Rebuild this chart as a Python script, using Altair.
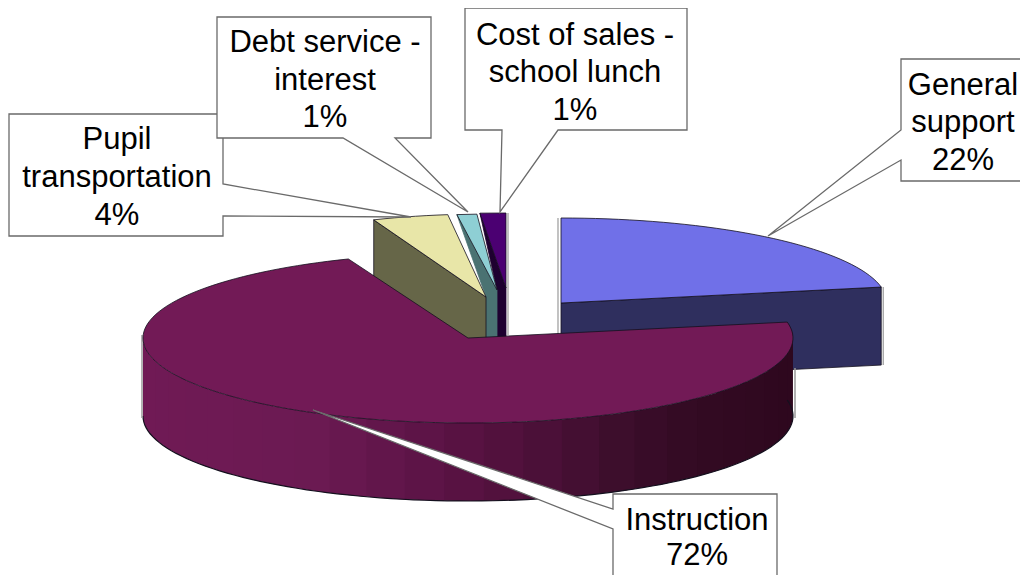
import math
import altair as alt
import pandas as pd

# ---- chart values
categories = ["General support", "Instruction", "Pupil transportation", "Debt service - interest", "Cost of sales - school lunch"]
values = [22, 72, 4, 1, 1]
label_lines = [["General", "support"], ["Instruction"], ["Pupil", "transportation"], ["Debt service -", "interest"], ["Cost of sales -", "school lunch"]]

# ---- drawing styles (top colour, wall colour)
top_colors = ["#7070e8", "#721a56", "#e8e6a8", "#8ecfd4", "#4b0072"]
wall_colors = ["#2f2f5e", "#5a1245", "#666648", "#4a7272", "#1e0030"]
# centre x, centre y, radius x, radius y of each exploded slice
ellipses = [(561, 303, 326, 85), (468, 338, 325, 85), (486, 297, 305, 83), (497, 290, 320, 76), (506, 288, 415, 75)]
DEPTH = 78
EDGE = "#14101e"
FRINGE = "#9a9a9a"
BOX = "#6a6a6a"
FONT = "Liberation Sans"
FS = 31

# angle limits from the values
limits = [0]
for v in values:
    limits.append(limits[-1] + v * 3.6)


def pt(i, t):
    cx, cy, rx, ry = ellipses[i]
    a = math.radians(t)
    return (cx + rx * math.sin(a), cy - ry * math.cos(a))


def arc(i, t0, t1):
    n = max(2, int(abs(t1 - t0) / 2) + 1)
    return [pt(i, t0 + (t1 - t0) * k / (n - 1)) for k in range(n)]


layers = []
X = alt.X("x:Q", scale=alt.Scale(domain=[8, 1020], nice=False, zero=False), axis=None)
Y = alt.Y("y:Q", scale=alt.Scale(domain=[575, 8], nice=False, zero=False), axis=None)


def poly(points, fill, stroke=None, width=1.0):
    df = pd.DataFrame({"x": [p[0] for p in points], "y": [p[1] for p in points], "seq": range(len(points))})
    kw = dict(interpolate="linear-closed", fill=fill, strokeWidth=width, stroke=stroke or fill)
    layers.append(alt.Chart(df).mark_line(**kw).encode(x=X, y=Y, order=alt.Order("seq:Q")))


def path(points, color, width=1.2):
    df = pd.DataFrame({"x": [p[0] for p in points], "y": [p[1] for p in points], "seq": range(len(points))})
    layers.append(alt.Chart(df).mark_line(color=color, strokeWidth=width).encode(x=X, y=Y, order=alt.Order("seq:Q")))


def down(p, d=DEPTH):
    return (p[0], p[1] + d)


# ---- General support
g0, g1 = limits[0], limits[1]
gc = ellipses[0][:2]
ge = pt(0, g1)
poly([gc, ge, down(ge), down(gc)], wall_colors[0], EDGE, 0.8)
poly([gc] + arc(0, g0, g1), top_colors[0], EDGE, 0.8)
path([(ge[0] + 2, ge[1]), (ge[0] + 2, ge[1] + DEPTH)], FRINGE)
path([(gc[0] - 3, ellipses[0][1] - 85), (gc[0] - 3, 334)], FRINGE)

# ---- the three small slices, back to front
for i, prev in [(4, 3), (3, 2), (2, None)]:
    t0, t1 = limits[i], limits[i + 1]
    c = ellipses[i][:2]
    a = pt(i, t0)
    if prev is None:
        wall = [a, c, down(c), down(a)]
    else:
        q = ellipses[prev][:2]
        wall = [a, c, down(c), down(q), q]
    poly(wall, wall_colors[i], EDGE if i == 2 else wall_colors[i], 0.8)
    poly([c] + arc(i, t0, t1), top_colors[i], EDGE, 0.8)
    if i == 4:
        path([(c[0] + 2, 213), (c[0] + 2, 335)], FRINGE)

# ---- Instruction: shaded front wall in narrow bands
i0, i1 = limits[1], limits[2]
stops = [(143, (112, 26, 85)), (320, (107, 26, 82)), (450, (90, 18, 68)), (540, (76, 16, 56)), (620, (60, 14, 44)), (700, (50, 10, 34)), (795, (46, 8, 30))]


def shade(x):
    for (xa, ca), (xb, cb) in zip(stops, stops[1:]):
        if x <= xb:
            f = (x - xa) / (xb - xa)
            c = [round(u + (w - u) * f) for u, w in zip(ca, cb)]
            return "#%02x%02x%02x" % tuple(c)
    return "#%02x%02x%02x" % stops[-1][1]


t = i0
while t < 270:
    u = min(t + 7, 270)
    band = arc(1, t, min(u + 2, 270))
    poly(band + [down(p) for p in reversed(band)], shade(pt(1, (t + u) / 2)[0]), None, 0.01)
    t = u
rim = arc(1, i0, 270)
path([down(p) for p in rim], EDGE, 1.2)
cx1, cy1 = ellipses[1][:2]
path([(cx1 - 326, cy1 - 3), (cx1 - 326, cy1 + 80)], FRINGE, 1.5)
path([(cx1 + 327, cy1 + 30), (cx1 + 327, cy1 + 80)], FRINGE, 1.5)
poly([(cx1, cy1)] + arc(1, i0, i1), top_colors[1], EDGE, 0.8)

# ---- callout boxes
BOXES = [
    [(901, 59), (1040, 59), (1040, 181), (901, 181), (901, 160), (768, 236), (901, 130)],
    [(613, 494), (777, 494), (777, 600), (613, 600), (613, 529), (313, 410), (613, 509)],
    [(9, 114), (223, 114), (223, 184), (411, 217), (223, 216), (223, 236), (9, 236)],
    [(217, 17), (431, 17), (431, 138), (395, 138), (468, 212), (343, 138), (217, 138)],
    [(465, 8), (687, 8), (687, 130), (558, 130), (500, 212), (502, 130), (465, 130)],
]
for b in BOXES:
    poly(b, "#ffffff", BOX, 1.3)

# ---- label text
CENTERS = [963, 697, 117, 325, 575]
BASELINES = [[95, 132, 170], [530, 565], [149, 187, 225], [52, 90, 127], [45, 82, 120]]
rows = []
for lines, v, cx, bases in zip(label_lines, values, CENTERS, BASELINES):
    for s, b in zip(lines + [f"{v}%"], bases):
        rows.append({"x": cx, "y": b, "label": s})
layers.append(
    alt.Chart(pd.DataFrame(rows))
    .mark_text(font=FONT, fontSize=FS, color="#000000", align="center", baseline="alphabetic")
    .encode(x=X, y=Y, text="label:N")
)

chart = (
    alt.layer(*layers)
    .properties(width=1012, height=567, padding=0, autosize=alt.AutoSizeParams(type="none"))
    .configure_view(stroke=None)
)
chart.save("out.html", embed_options={"renderer": "svg", "actions": False})
